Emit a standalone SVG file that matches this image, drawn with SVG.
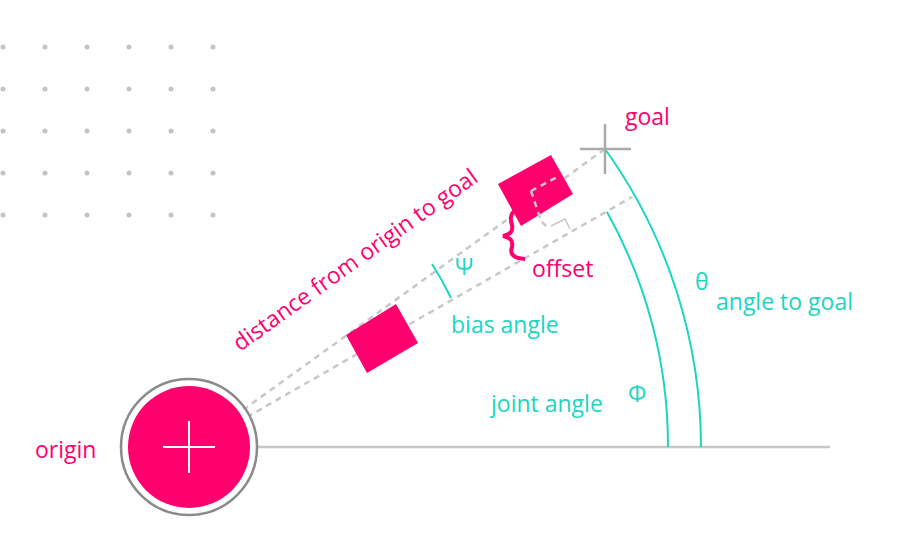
<svg xmlns="http://www.w3.org/2000/svg" width="920" height="550" viewBox="0 0 920 550">
<style>
.dash{stroke:#c8c8c8;stroke-width:2.5;stroke-dasharray:6 5;fill:none}
.teal{stroke:#1ad6c2;stroke-width:2;fill:none}
.pk{fill:#ff006e;font-family:"Open Sans","Liberation Sans",sans-serif;font-size:23px}
.tl{fill:#1ad6c2;font-family:"Open Sans","Liberation Sans",sans-serif;font-size:23px}
.dot{fill:#c4c4c4}
</style>
<g id="dots">
<g class="dot">
<circle cx="3" cy="47" r="2.5"/><circle cx="45" cy="47" r="2.5"/><circle cx="87" cy="47" r="2.5"/><circle cx="129" cy="47" r="2.5"/><circle cx="171" cy="47" r="2.5"/><circle cx="213" cy="47" r="2.5"/>
<circle cx="3" cy="89" r="2.5"/><circle cx="45" cy="89" r="2.5"/><circle cx="87" cy="89" r="2.5"/><circle cx="129" cy="89" r="2.5"/><circle cx="171" cy="89" r="2.5"/><circle cx="213" cy="89" r="2.5"/>
<circle cx="3" cy="131" r="2.5"/><circle cx="45" cy="131" r="2.5"/><circle cx="87" cy="131" r="2.5"/><circle cx="129" cy="131" r="2.5"/><circle cx="171" cy="131" r="2.5"/><circle cx="213" cy="131" r="2.5"/>
<circle cx="3" cy="173" r="2.5"/><circle cx="45" cy="173" r="2.5"/><circle cx="87" cy="173" r="2.5"/><circle cx="129" cy="173" r="2.5"/><circle cx="171" cy="173" r="2.5"/><circle cx="213" cy="173" r="2.5"/>
<circle cx="3" cy="215" r="2.5"/><circle cx="45" cy="215" r="2.5"/><circle cx="87" cy="215" r="2.5"/><circle cx="129" cy="215" r="2.5"/><circle cx="171" cy="215" r="2.5"/><circle cx="213" cy="215" r="2.5"/>
</g>
</g>
<g id="connectors">
<line x1="258" y1="447" x2="830" y2="447" stroke="#c8c8c8" stroke-width="2.5"/>
<line class="dash" x1="243" y1="410" x2="605" y2="149"/>
<line class="dash" x1="247" y1="417" x2="632" y2="197"/>
<path class="dash" d="M531 191 L559 176 M531 191 L541 221 L548 228"/>
<path d="M551 226 L565 219 L570 229" stroke="#c8c8c8" stroke-width="1.5" fill="none"/>
<path class="teal" d="M605 149 A512 512 0 0 1 701 447"/>
<path class="teal" d="M607 212 A480 480 0 0 1 668 447"/>
<path class="teal" d="M432 264 A302 302 0 0 1 451 298"/>
<path d="M523 208 Q507 210 512 225 Q514 234 503 236 Q514 238 512 247 Q508 258 525 259" stroke="#ff006e" stroke-width="4" fill="none"/>
</g>
<g id="origin">
<circle cx="189" cy="447" r="68" fill="#fff" stroke="#8a8a8a" stroke-width="2.5"/>
<circle cx="189" cy="447" r="61" fill="#ff006e"/>
<path d="M163 447 H215 M189 421 V473" stroke="#fff" stroke-width="2"/>
<text class="pk" x="35" y="458">origin</text>
</g>
<g id="goal">
<path d="M580 149 H631 M605 124 V174" stroke="#aaa" stroke-width="2.5"/>
<text class="pk" x="625" y="125">goal</text>
</g>
<g id="robot1"><polygon points="346,335 396,304 418,343 367,373" fill="#ff006e"/></g>
<g id="robot2"><polygon points="498,184 551,155 573,194 521,226" fill="#ff006e"/>
<path class="dash" d="M531 191 L559 176 M531 191 L541 221" stroke="#f4f4f4"/></g>
<g id="labels">
<text class="pk" transform="translate(240 352) rotate(-35.6)">distance from origin to goal</text>
<text class="pk" x="532" y="277">offset</text>
<text class="tl" x="455" y="275">Ψ</text>
<text class="tl" x="451" y="333">bias angle</text>
<text class="tl" x="695" y="290">θ</text>
<text class="tl" x="716" y="310">angle to goal</text>
<text class="tl" x="491" y="412">joint angle</text>
<text class="tl" x="628" y="402">Φ</text>
</g>
</svg>
